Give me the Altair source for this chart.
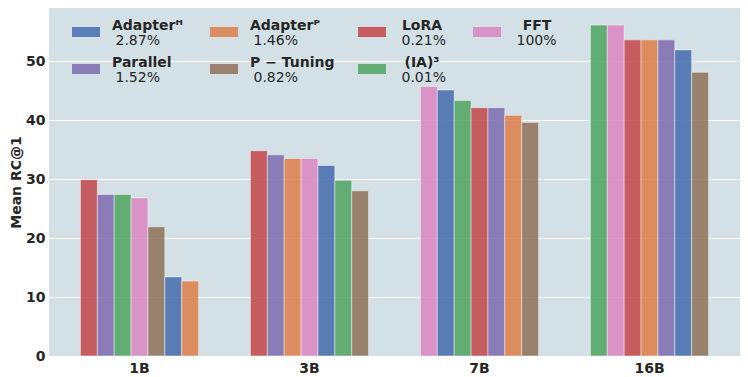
import altair as alt
import pandas as pd

# ---- data ----
sizes = ["1B", "3B", "7B", "16B"]
methods = ["AdapterH", "AdapterP", "LoRA", "FFT", "Parallel", "P-Tuning", "(IA)3"]
method_labels = ["Adapterᴴ", "Adapterᴾ", "LoRA", "FFT", "Parallel", "P − Tuning", "(IA)³"]
param_pct = ["2.87%", "1.46%", "0.21%", "100%", "1.52%", "0.82%", "0.01%"]
colors = ["#4C72B0", "#DD8452", "#C44E52", "#DA8BC3", "#8172B3", "#937860", "#55A868"]

adapter_h = [13.4, 32.3, 45.1, 51.9]
adapter_p = [12.7, 33.5, 40.8, 53.6]
lora = [29.9, 34.8, 42.1, 53.6]
fft = [26.8, 33.5, 45.7, 56.1]
parallel = [27.4, 34.1, 42.1, 53.6]
p_tuning = [21.9, 28.0, 39.6, 48.1]
ia3 = [27.4, 29.8, 43.3, 56.1]

series = [adapter_h, adapter_p, lora, fft, parallel, p_tuning, ia3]
# order used to break ties when bars are sorted by value inside a group
tie_order = ["LoRA", "AdapterP", "Parallel", "(IA)3", "FFT", "AdapterH", "P-Tuning"]

rows = []
for i, s in enumerate(sizes):
    items = [(m, series[k][i]) for k, m in enumerate(methods)]
    items.sort(key=lambda t: (-t[1], tie_order.index(t[0])))
    for r, (m, v) in enumerate(items):
        rows.append({"size": s, "method": m, "value": v, "rank": r})
df = pd.DataFrame(rows)

# ---- legend layout (pixels inside the plot area) ----
col_left = [23, 161, 309, 424]
row_top = [19, 56]
leg_rows = []
for k, m in enumerate(methods):
    c, r = k % 4, k // 4
    x0 = col_left[c]
    y0 = row_top[r]
    leg_rows.append({
        "method": m, "label": method_labels[k], "pct": param_pct[k], "col": c,
        "px0": x0, "px1": x0 + 28, "py0": y0, "py1": y0 + 10,
        "nx": x0 + (40 if c < 2 else 64), "ny": y0 + 2.5,
        "tx": x0 + 43.5, "ty": y0 + 17.5,
    })
leg = pd.DataFrame(leg_rows)

color_scale = alt.Scale(domain=methods, range=colors)
FONT = "DejaVu Sans"
TXT = "#262626"

bars = alt.Chart(df).mark_bar(
    opacity=0.9, stroke="white", strokeWidth=0.8, strokeOpacity=0.6
).encode(
    x=alt.X("size:N", sort=sizes, title=None,
            scale=alt.Scale(paddingInner=0.305, paddingOuter=0.185),
            axis=alt.Axis(labelAngle=0, grid=False, labelPadding=5)),
    xOffset=alt.XOffset("rank:O", scale=alt.Scale(paddingInner=0, paddingOuter=0)),
    y=alt.Y("value:Q", scale=alt.Scale(domain=[0, 59], nice=False),
            axis=alt.Axis(values=[0, 10, 20, 30, 40, 50], title="Mean RC@1",
                          labelPadding=4, titlePadding=2)),
    color=alt.Color("method:N", scale=color_scale, legend=None),
)

patches = alt.Chart(leg).mark_rect(opacity=0.9).encode(
    x=alt.X("px0:Q", scale=None, axis=None), x2="px1:Q",
    y=alt.Y("py0:Q", scale=None, axis=None), y2="py1:Q",
    color=alt.Color("method:N", scale=color_scale, legend=None),
)

names_left = alt.Chart(leg).transform_filter("datum.col < 2").mark_text(
    align="left", baseline="alphabetic", font=FONT, fontWeight="bold",
    fontSize=14, color=TXT
).encode(
    x=alt.X("nx:Q", scale=None, axis=None),
    y=alt.Y("ny:Q", scale=None, axis=None),
    text="label:N",
)

names_center = alt.Chart(leg).transform_filter("datum.col >= 2").mark_text(
    align="center", baseline="alphabetic", font=FONT, fontWeight="bold",
    fontSize=14, color=TXT
).encode(
    x=alt.X("nx:Q", scale=None, axis=None),
    y=alt.Y("ny:Q", scale=None, axis=None),
    text="label:N",
)

pcts = alt.Chart(leg).mark_text(
    align="left", baseline="alphabetic", font=FONT, fontSize=14, color=TXT
).encode(
    x=alt.X("tx:Q", scale=None, axis=None),
    y=alt.Y("ty:Q", scale=None, axis=None),
    text="pct:N",
)

chart = alt.layer(bars, patches, names_left, names_center, pcts).resolve_scale(
    x="independent", y="independent"
).properties(
    width=691, height=348,
    autosize=alt.AutoSizeParams(type="none"),
    padding={"left": 41, "top": 0, "right": 0, "bottom": 21},
).configure_view(
    fill="#d3e1e6", stroke=None
).configure_axis(
    labelFont=FONT, labelFontWeight="bold", labelFontSize=14, labelColor=TXT,
    titleFont=FONT, titleFontWeight="bold", titleFontSize=14, titleColor=TXT,
    ticks=False, domain=False, gridColor="white", gridWidth=1,
)

chart.save("out.html", embed_options={"renderer": "svg", "actions": False})
